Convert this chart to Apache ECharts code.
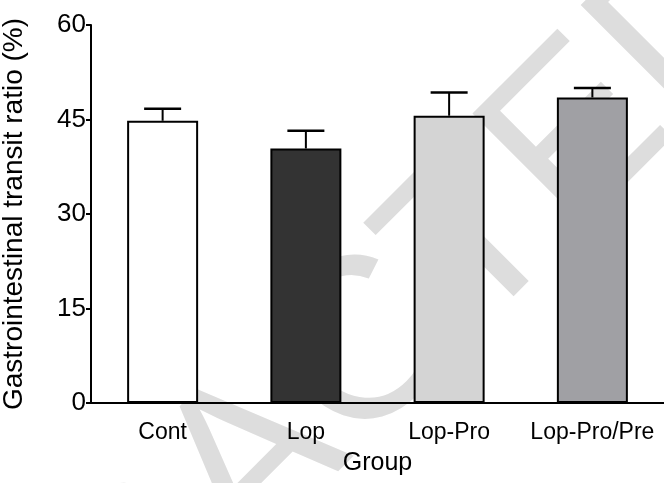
<!DOCTYPE html>
<html>
<head>
<meta charset="utf-8">
<script src="https://cdn.jsdelivr.net/npm/echarts@6/dist/echarts.min.js"></script>
<style>
  html, body { margin: 0; padding: 0; background: #fff; }
  #chart { width: 664px; height: 483px; }
</style>
</head>
<body>
<div id="chart"></div>
<script>
// data
const groups = ['Cont', 'Lop', 'Lop-Pro', 'Lop-Pro/Pre'];
const means = [44.8, 40.4, 45.6, 48.5];
const errors = [1.9, 2.8, 3.7, 1.5];
const barColors = ['#ffffff', '#333333', '#d4d4d4', '#a0a0a4'];
const yTicks = [0, 15, 30, 45, 60];

const font = 'Arial, "Liberation Sans", sans-serif';
let chart = echarts.init(document.getElementById('chart'));

let option = {
  backgroundColor: '#fff',
  animation: false,
  // faint diagonal watermark behind the plot
  graphic: {
    elements: [{
      type: 'text',
      z: 0,
      x: 255,
      y: 465,
      rotation: Math.PI / 4,
      style: {
        text: 'RETRACTED',
        font: '230px ' + font,
        fill: '#dddddd',
        align: 'center',
        verticalAlign: 'middle'
      }
    }]
  },
  grid: { left: 91, right: 0, top: 25, bottom: 80, outerBoundsMode: 'none' },
  xAxis: {
    type: 'category',
    data: groups,
    name: 'Group',
    nameLocation: 'middle',
    nameGap: 48,
    nameTextStyle: { fontSize: 25, color: '#000', fontFamily: font },
    axisLine: { lineStyle: { color: '#000', width: 2 } },
    axisTick: { show: false },
    axisLabel: { interval: 0, fontSize: 23, color: '#000', fontFamily: font, margin: 18 }
  },
  yAxis: {
    type: 'value',
    min: yTicks[0],
    max: yTicks[yTicks.length - 1],
    interval: 15,
    name: 'Gastrointestinal transit ratio (%)',
    nameLocation: 'middle',
    nameGap: 63,
    nameTextStyle: { fontSize: 28, color: '#000', fontFamily: font },
    splitLine: { show: false },
    axisLine: { show: true, lineStyle: { color: '#000', width: 2 } },
    axisTick: { show: true, length: 5, lineStyle: { color: '#000', width: 2 } },
    axisLabel: { fontSize: 26, color: '#000', fontFamily: font, margin: 5 }
  },
  series: [
    {
      type: 'bar',
      barWidth: 71,
      data: means.map((v, i) => ({
        value: v,
        itemStyle: { color: barColors[i] }
      })),
      itemStyle: { borderColor: '#000', borderWidth: 2 },
      z: 5
    },
    {
      type: 'custom',
      z: 6,
      data: means.map((v, i) => [i, v, v + errors[i]]),
      renderItem: function (params, api) {
        let base = api.coord([api.value(0), api.value(1)]);
        let top = api.coord([api.value(0), api.value(2)]);
        let half = 18.5;
        return {
          type: 'group',
          children: [
            {
              type: 'line',
              shape: { x1: base[0], y1: base[1], x2: top[0], y2: top[1] },
              style: { stroke: '#000', lineWidth: 2 }
            },
            {
              type: 'line',
              shape: { x1: top[0] - half, y1: top[1], x2: top[0] + half, y2: top[1] },
              style: { stroke: '#000', lineWidth: 2.5 }
            }
          ]
        };
      }
    }
  ]
};

chart.setOption(option);
</script>
</body>
</html>
